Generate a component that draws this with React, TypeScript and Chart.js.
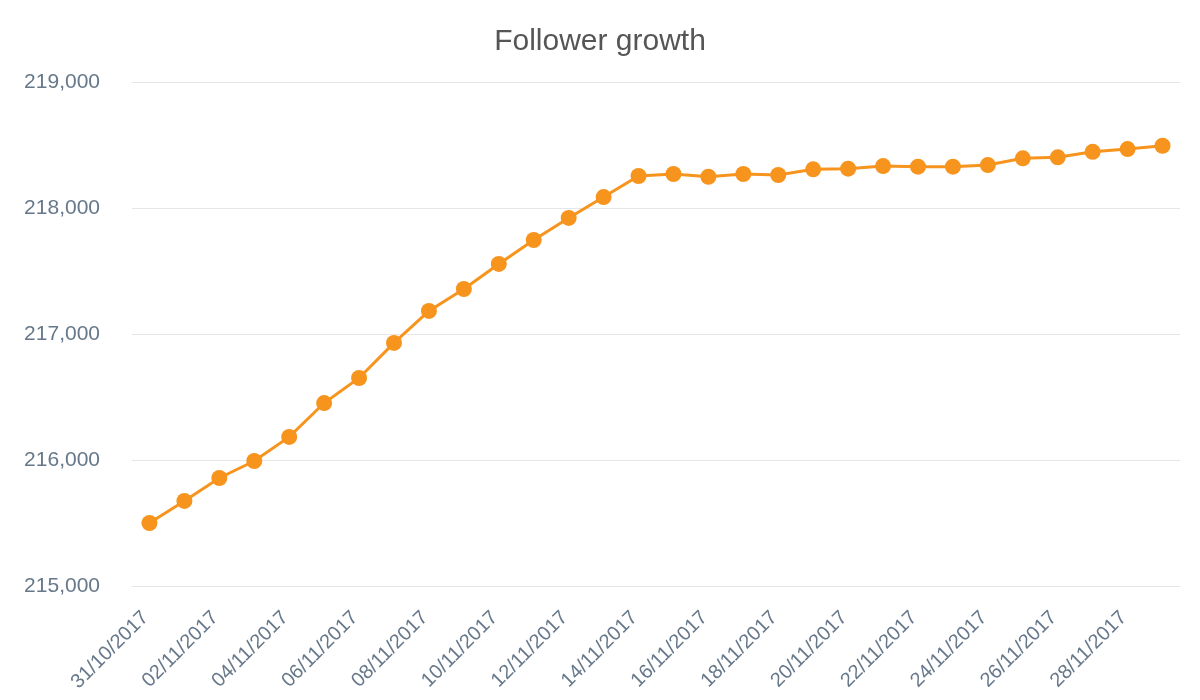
import { useEffect, useRef } from 'react';
import { Chart, registerables } from 'chart.js';

Chart.register(...registerables);

const dates = [
  '31/10/2017', '01/11/2017', '02/11/2017', '03/11/2017', '04/11/2017', '05/11/2017',
  '06/11/2017', '07/11/2017', '08/11/2017', '09/11/2017', '10/11/2017', '11/11/2017',
  '12/11/2017', '13/11/2017', '14/11/2017', '15/11/2017', '16/11/2017', '17/11/2017',
  '18/11/2017', '19/11/2017', '20/11/2017', '21/11/2017', '22/11/2017', '23/11/2017',
  '24/11/2017', '25/11/2017', '26/11/2017', '27/11/2017', '28/11/2017', '29/11/2017',
];

const followers = [
  215500, 215675, 215857, 215992, 216183, 216452,
  216651, 216929, 217183, 217357, 217556, 217746,
  217921, 218087, 218254, 218270, 218248, 218270,
  218262, 218307, 218312, 218333, 218328, 218328,
  218341, 218394, 218402, 218446, 218468, 218494,
];

const yMin = 215000;
const yMax = 219000;

const labelColor = '#66788a';
const lineColor = '#f7941d';
const fontFamily = 'Arial, "Liberation Sans", sans-serif';

export default function App() {
  const canvasRef = useRef<HTMLCanvasElement>(null);

  useEffect(() => {
    document.body.style.margin = '0';
    if (!canvasRef.current) return;
    const chart = new Chart(canvasRef.current, {
      type: 'line',
      data: {
        labels: dates,
        datasets: [
          {
            label: 'Followers',
            data: followers,
            borderColor: lineColor,
            backgroundColor: lineColor,
            borderWidth: 3,
            pointRadius: 8,
            pointBorderWidth: 0,
            pointBackgroundColor: lineColor,
            tension: 0,
          },
        ],
      },
      options: {
        responsive: true,
        maintainAspectRatio: false,
        animation: false,
        layout: { padding: { left: 20, right: 20, top: 0, bottom: 0 } },
        plugins: {
          legend: { display: false },
          tooltip: { enabled: false },
          title: {
            display: true,
            text: 'Follower growth',
            color: '#555555',
            font: { family: fontFamily, size: 30, weight: 'normal' },
            padding: { top: 24, bottom: 22 },
          },
        },
        scales: {
          x: {
            offset: true,
            grid: { display: false },
            border: { display: false },
            ticks: {
              autoSkip: false,
              maxRotation: 45,
              minRotation: 45,
              labelOffset: -4,
              padding: 12,
              color: labelColor,
              font: { family: fontFamily, size: 20 },
              callback: (_v, i) => (i % 2 === 0 ? dates[i] : ''),
            },
            afterFit: (scale) => {
              scale.height = 114;
            },
          },
          y: {
            min: yMin,
            max: yMax,
            grid: { color: '#e6e6e6', lineWidth: 1, drawTicks: false },
            border: { display: false },
            ticks: {
              stepSize: 1000,
              padding: 32,
              color: labelColor,
              font: { family: fontFamily, size: 21 },
              callback: (v) => Number(v).toLocaleString('en-US'),
            },
            afterFit: (scale) => {
              scale.width = 112;
            },
          },
        },
      },
    });
    return () => {
      chart.destroy();
    };
  }, []);

  return (
    <div style={{ position: 'relative', width: 1200, height: 700, background: '#ffffff' }}>
      <canvas ref={canvasRef} />
    </div>
  );
}
